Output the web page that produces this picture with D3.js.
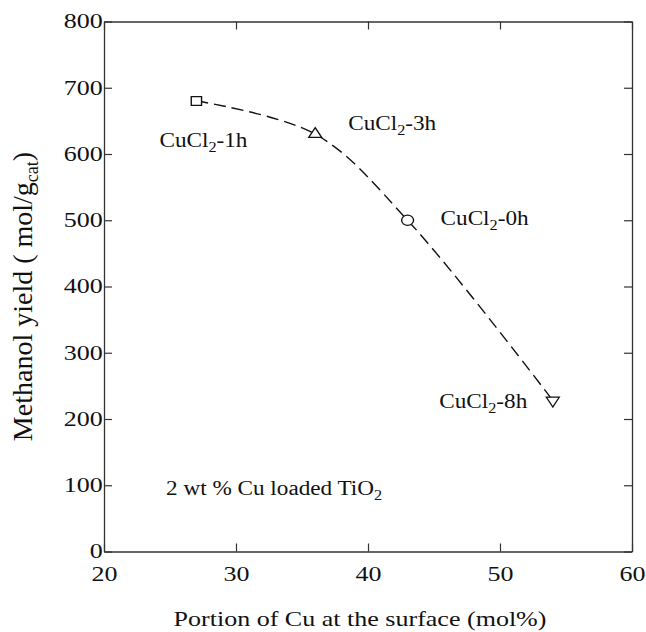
<!DOCTYPE html>
<html>
<head>
<meta charset="utf-8">
<script src="https://cdn.jsdelivr.net/npm/d3@7"></script>
<style>
  body { margin: 0; background: #fff; }
  text { font-family: "Liberation Serif", "Times New Roman", serif; fill: #111; }
</style>
</head>
<body>
<div id="chart"></div>
<script>
// data
var samples = ["CuCl2-1h", "CuCl2-3h", "CuCl2-0h", "CuCl2-8h"];
var surfaceCu = [27, 36, 43, 54];
var methanolYield = [680, 630, 500, 228];
var markers = ["square", "triangle", "circle", "triangleDown"];
var labelX = [24.2, 38.5, 45.5, 45.4];
var labelY = [611, 636, 493, 217];
var xTicks = [20, 30, 40, 50, 60];
var yTicks = [0, 100, 200, 300, 400, 500, 600, 700, 800];

var W = 646, H = 632;
var margin = {top: 21.5, right: 14, bottom: 80.5, left: 104};
var width = W - margin.left - margin.right,
    height = H - margin.top - margin.bottom;
var stretch = 1.3; // the picture's glyphs are wider than tall

var svg = d3.select("#chart").append("svg")
  .attr("width", W)
  .attr("height", H)
  .append("g")
  .attr("transform", "translate(" + margin.left + "," + margin.top + ")");

var x = d3.scaleLinear().domain([20, 60]).range([0, width]);
var y = d3.scaleLinear().domain([0, 800]).range([height, 0]);

//////// axes ////////
function styleAxis(g) {
  g.select(".domain").attr("stroke", "#333").attr("stroke-width", 1.3);
  g.selectAll(".tick line").attr("stroke", "#333").attr("stroke-width", 1.2);
  g.selectAll("text").style("font-family", null).attr("fill", "#111").attr("font-size", 20);
}

svg.append("g")
  .attr("transform", "translate(0," + height + ")")
  .call(d3.axisBottom(x).tickValues(xTicks).tickSize(-8).tickSizeOuter(0).tickPadding(15))
  .call(styleAxis)
  .selectAll("text").attr("transform", "scale(" + stretch + ",1)");

svg.append("g")
  .call(d3.axisTop(x).tickValues(xTicks).tickSize(-8).tickSizeOuter(0).tickFormat(""))
  .call(styleAxis);

svg.append("g")
  .call(d3.axisLeft(y).tickValues(yTicks).tickSize(-8).tickSizeOuter(0).tickPadding(1))
  .call(styleAxis)
  .selectAll("text").attr("transform", "scale(" + stretch + ",1)");

svg.append("g")
  .attr("transform", "translate(" + width + ",0)")
  .call(d3.axisRight(y).tickValues(yTicks).tickSize(-8).tickSizeOuter(0).tickFormat(""))
  .call(styleAxis);

//////// dashed curve ////////
var pts = surfaceCu.map(function(d, i) { return [d, methanolYield[i]]; });

var line = d3.line()
  .x(function(d) { return x(d[0]); })
  .y(function(d) { return y(d[1]); })
  .curve(d3.curveCatmullRom);

svg.append("path")
  .datum(pts)
  .attr("d", line)
  .attr("fill", "none")
  .attr("stroke", "#111")
  .attr("stroke-width", 1.4)
  .attr("stroke-dasharray", "12,6");

//////// markers ////////
var symbolType = {
  square: d3.symbolSquare,
  triangle: d3.symbolTriangle,
  circle: d3.symbolCircle,
  triangleDown: d3.symbolTriangle
};
var symbolSize = {square: 80, triangle: 55, circle: 85, triangleDown: 55};

svg.selectAll(".mark")
  .data(pts)
  .enter().append("path")
  .attr("class", "mark")
  .attr("d", function(d, i) { return d3.symbol().type(symbolType[markers[i]]).size(symbolSize[markers[i]])(); })
  .attr("transform", function(d, i) {
    var t = "translate(" + x(d[0]) + "," + y(d[1]) + ") scale(1.15,1)";
    if (markers[i] == "triangleDown") t += " rotate(180)";
    return t;
  })
  .attr("fill", "#fff")
  .attr("stroke", "#111")
  .attr("stroke-width", 1.2);

//////// sample labels ////////
function chem(sel, base, sub, rest) {
  sel.append("tspan").text(base);
  sel.append("tspan").attr("font-size", 14).attr("dy", 5).text(sub);
  sel.append("tspan").attr("dy", -5).text(rest);
}

svg.selectAll(".lbl")
  .data(samples)
  .enter().append("text")
  .attr("class", "lbl")
  .attr("font-size", 20)
  .attr("transform", function(d, i) {
    return "translate(" + x(labelX[i]) + "," + y(labelY[i]) + ") scale(1.16,1)";
  })
  .each(function(d) {
    chem(d3.select(this), "CuCl", "2", d.slice(5));
  });

var note = svg.append("text")
  .attr("font-size", 20)
  .attr("transform", "translate(" + x(24.7) + "," + y(85) + ") scale(1.16,1)");
chem(note, "2 wt % Cu loaded TiO", "2", "");

//////// axis titles ////////
svg.append("text")
  .attr("font-size", 21)
  .attr("text-anchor", "middle")
  .attr("transform", "translate(" + (width / 2 - 8) + "," + (height + 74) + ") scale(1.24,1)")
  .text("Portion of Cu at the surface (mol%)");

var yl = svg.append("text")
  .attr("font-size", 28)
  .attr("text-anchor", "middle")
  .attr("transform", "translate(" + (32 - margin.left) + "," + (height / 2 + 10) + ") rotate(-90)");
yl.append("tspan").text("Methanol yield (  mol/g");
yl.append("tspan").attr("font-size", 18).attr("dy", 6).text("cat");
yl.append("tspan").attr("dy", -6).text(")");
</script>
</body>
</html>
